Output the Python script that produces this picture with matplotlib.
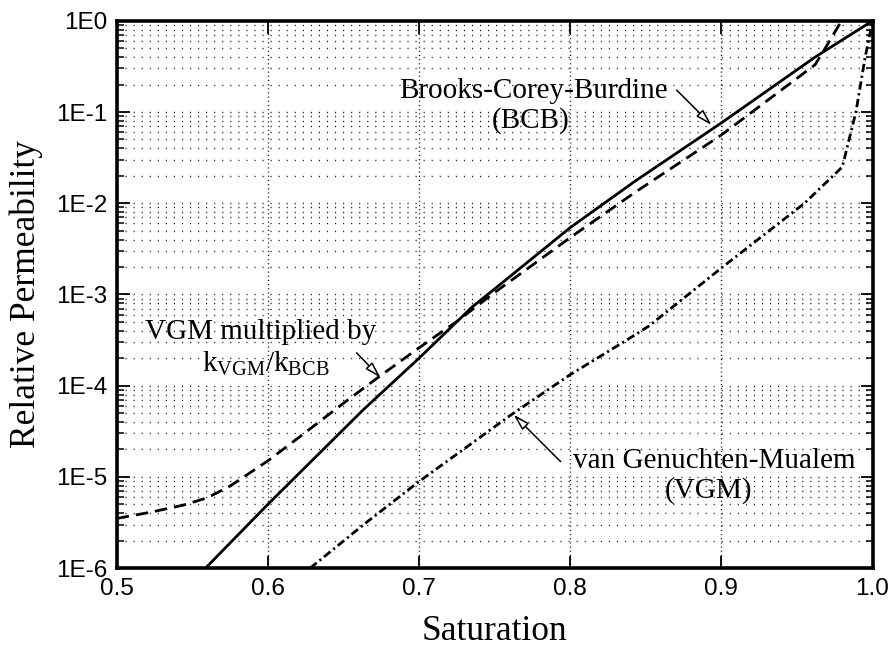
import numpy as np
import matplotlib
matplotlib.use("Agg")
import matplotlib.pyplot as plt
from matplotlib.ticker import FixedLocator, LogLocator, FixedFormatter, NullFormatter

# --- data ---
s_bcb = [0.5588, 0.60, 0.6634, 0.70, 0.7348, 0.75, 0.80, 0.843, 0.90, 0.962, 1.0]
k_bcb = [1.0e-6, 5.0e-6, 5.5e-5, 2.0e-4, 7.2e-4, 1.15e-3, 5.4e-3, 1.75e-2, 7.6e-2, 0.40, 1.0]

s_scaled = [0.50, 0.5225, 0.544, 0.56, 0.5754, 0.60, 0.6217, 0.652, 0.672, 0.70, 0.726,
            0.75, 0.80, 0.843, 0.90, 0.962, 0.969, 0.9795, 0.985]
k_scaled = [3.5e-6, 4.1e-6, 4.9e-6, 5.9e-6, 8.0e-6, 1.5e-5, 2.8e-5, 6.8e-5, 1.2e-4, 2.6e-4, 5.2e-4,
            1.05e-3, 4.2e-3, 1.32e-2, 5.6e-2, 0.33, 0.51, 1.0, 1.45]

s_vgm = [0.628, 0.6634, 0.70, 0.761, 0.80, 0.8366, 0.852, 0.90, 0.955, 0.98, 0.989, 0.995, 1.0]
k_vgm = [1.0e-6, 3.0e-6, 8.9e-6, 4.8e-5, 1.32e-4, 3.1e-4, 4.5e-4, 1.95e-3, 1.0e-2, 2.5e-2, 0.1, 0.39, 1.0]

x_ticks = [0.5, 0.6, 0.7, 0.8, 0.9, 1.0]
x_labels = ['0.5', '0.6', '0.7', '0.8', '0.9', '1.0']
y_ticks = [1e-6, 1e-5, 1e-4, 1e-3, 1e-2, 1e-1, 1e0]
y_labels = ['1E-6', '1E-5', '1E-4', '1E-3', '1E-2', '1E-1', '1E0']

plt.rcParams['mathtext.fontset'] = 'custom'
plt.rcParams['mathtext.rm'] = 'Liberation Serif'
plt.rcParams['mathtext.it'] = 'Liberation Serif'

serif = 'Liberation Serif'
sans = 'Liberation Sans'

fig = plt.figure(figsize=(8.94, 6.5), dpi=100)
ax = fig.add_axes([0.1305, 0.126, 0.8455, 0.842])

ax.plot(s_bcb, k_bcb, color='black', lw=2.0, ls='-')
ax.plot(s_scaled, k_scaled, color='black', lw=2.0, ls=(0, (4.5, 2.5)))
ax.plot(s_vgm, k_vgm, color='black', lw=2.0, ls=(0, (3, 1.3, 0.8, 1.3)))

ax.set_yscale('log')
ax.set_xlim(0.5, 1.0)
ax.set_ylim(1e-6, 1.0)

# --- grid: dotted horizontal lines at every decade step, vertical only at major ticks ---
ax.yaxis.set_minor_locator(LogLocator(base=10, subs=np.arange(2, 10)))
ax.yaxis.set_minor_formatter(NullFormatter())
ax.grid(True, which='both', axis='y', color='0.1', lw=1.0, ls=(0, (0.8, 5.0)))
ax.grid(True, which='major', axis='x', color='0.1', lw=1.0, ls=(0, (0.8, 2.2)))

ax.xaxis.set_major_locator(FixedLocator(x_ticks))
ax.xaxis.set_major_formatter(FixedFormatter(x_labels))
ax.yaxis.set_major_locator(FixedLocator(y_ticks))
ax.yaxis.set_major_formatter(FixedFormatter(y_labels))

ax.tick_params(axis='both', which='major', direction='in', length=9, width=1.3,
               top=True, right=True, labelsize=17.5, pad=7)
ax.tick_params(axis='y', which='minor', direction='in', length=5, width=1.1,
               left=True, right=True)
for lab in ax.get_xticklabels() + ax.get_yticklabels():
    lab.set_fontfamily(sans)

for sp in ax.spines.values():
    sp.set_linewidth(2.6)

ax.set_xlabel('Saturation', fontfamily=serif, fontsize=25.5, labelpad=11)
ax.set_ylabel('Relative Permeability', fontfamily=serif, fontsize=25.5, labelpad=9)

# --- annotations ---
txt = dict(fontfamily=serif, fontsize=21, ha='center', va='baseline')
ax.text(0.7758, 10 ** -0.847, 'Brooks-Corey-Burdine', **txt)
ax.text(0.774, 10 ** -1.175, '(BCB)', **txt)
ax.text(0.5952, 10 ** -3.486, 'VGM multiplied by', **txt)
ax.text(0.5985, 10 ** -3.85, r'k$_{\mathrm{VGM}}$/k$_{\mathrm{BCB}}$', **txt)
ax.text(0.8955, 10 ** -4.90, 'van Genuchten-Mualem', **txt)
ax.text(0.8915, 10 ** -5.23, '(VGM)', **txt)

arrow = dict(arrowstyle='-|>,head_length=0.7,head_width=0.2', fc='white', ec='black',
             lw=1.1, mutation_scale=14, shrinkA=0, shrinkB=0)
ax.annotate('', xy=(0.8935, 10 ** -1.142), xytext=(0.8704, 10 ** -0.759), arrowprops=arrow)
ax.annotate('', xy=(0.6746, 10 ** -3.913), xytext=(0.6587, 10 ** -3.64), arrowprops=arrow)
ax.annotate('', xy=(0.7626, 10 ** -4.318), xytext=(0.7937, 10 ** -4.833), arrowprops=arrow)

fig.savefig('out.png', dpi=100)
